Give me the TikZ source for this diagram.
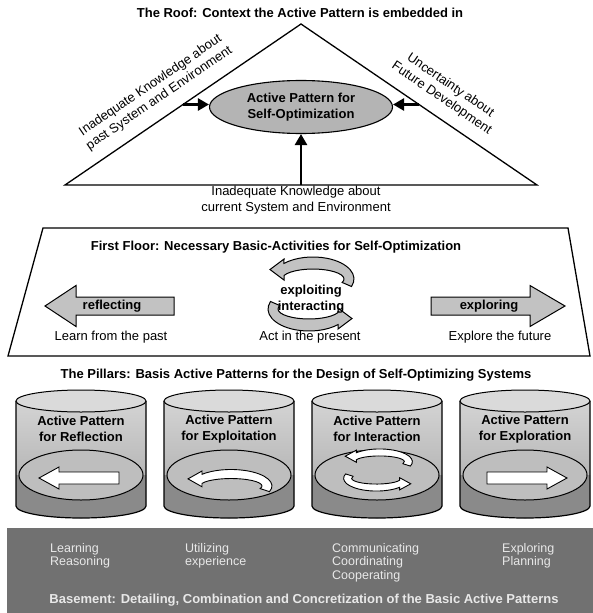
\documentclass[tikz,border=0pt]{standalone}
\usepackage{fontspec}
\setmainfont{Liberation Sans}
\usetikzlibrary{calc,shapes.geometric,arrows.meta}

\definecolor{roofgray}{HTML}{B4B4B4}
\definecolor{arrowgray}{HTML}{C2C2C2}
\definecolor{lidgray}{HTML}{DADADA}
\definecolor{bodytop}{HTML}{D4D4D4}
\definecolor{bodybot}{HTML}{A6A6A6}
\definecolor{bandgray}{HTML}{8A8A8A}
\definecolor{discgray}{HTML}{BEBEBE}
\definecolor{basegray}{HTML}{717171}
\definecolor{basetextc}{HTML}{E8E8E8}

\tikzset{
  every node/.style={font=\fontsize{13}{15.5}\selectfont, inner sep=0pt, align=center},
  heading/.style={font=\fontsize{13}{15.5}\selectfont\bfseries},
  frame/.style={draw=black, line width=1.3pt, line join=miter},
  push/.style={line width=2.6pt, -{Triangle[length=11pt,width=12pt]}},
  blockarrow/.style={draw=black, line width=1pt, fill=arrowgray, line join=miter},
  iconarrow/.style={draw=black, line width=0.9pt, fill=white, line join=miter},
  basetext/.style={text=basetextc, align=left, font=\fontsize{12.5}{13.5}\selectfont},
  % a bent arrow: curved band over the top, head on the left pointing left
  bentarrow/.pic={
    \path[pic actions] (40.5,8.5)
      arc[start angle=-20, end angle=135, x radius=41, y radius=22]
      -- (-27,36) -- (-41,25.5) -- (-27,15) -- (-27,19.5)
      arc[start angle=159.3, end angle=-20, x radius=31, y radius=10]
      -- cycle;
  }
}

\begin{document}
\begin{tikzpicture}[x=1pt,y=1pt]
\useasboundingbox (0,0) rectangle (593,-613);

% ---------------- roof ----------------
\node[heading] (rooftitle) at (300,-13) {The Roof: Context the Active Pattern is embedded in};
\coordinate (apex) at (301,-24);
\coordinate (bl) at (65,-185);
\coordinate (br) at (537,-185);
\draw[frame] (bl) -- (apex) -- (br) -- cycle;

\node[ellipse, draw, line width=1.1pt, fill=roofgray, minimum width=183pt,
      minimum height=53pt, heading] (core) at (301,-107) {Active Pattern for\\Self-Optimization};

\coordinate (pastin) at ($(bl)!0.5!(apex)$);
\coordinate (futin) at ($(br)!0.5!(apex)$);
\coordinate (nowin) at ($(bl)!0.5!(br)$);
\draw[push] (pastin) -- (pastin -| core.west);
\draw[push] (futin) -- (futin -| core.east);
\draw[push] (nowin) -- (core.south);

\node[rotate=34.3] (pastlbl) at (155,-92) {Inadequate Knowledge about\\past System and Environment};
\node[rotate=-34.3] (futlbl) at (446,-92) {Uncertainty about\\Future Development};
\node (nowlbl) at (296,-200) {Inadequate Knowledge about\\current System and Environment};

% ---------------- first floor ----------------
\draw[frame] (43,-228) -- (568,-228) -- (590,-356) -- (8,-356) -- cycle;
\node[heading] (floortitle) at (276,-247) {First Floor: Necessary Basic-Activities for Self-Optimization};

\draw[blockarrow] (45,-306) -- (76,-285.5) -- (76,-297) -- (174,-297) -- (174,-315)
  -- (76,-315) -- (76,-326.5) -- cycle;
\node[heading] (reflect) at (112,-306) {reflecting};
\draw[blockarrow] (565,-306) -- (530,-285.5) -- (530,-297) -- (431,-297) -- (431,-315)
  -- (530,-315) -- (530,-326.5) -- cycle;
\node[heading] (explore) at (489,-306) {exploring};

\pic[blockarrow] at (311,-295) {bentarrow};
\pic[blockarrow, rotate=180] at (311,-293) {bentarrow};
\node[heading] (actwords) at (311,-299) {exploiting\\interacting};

\node (learn) at (111,-337) {Learn from the past};
\node (act) at (310,-337) {Act in the present};
\node (future) at (500,-337) {Explore the future};

% ---------------- pillars ----------------
\node[heading] (pillartitle) at (296,-375) {The Pillars: Basis Active Patterns for the Design of Self-Optimizing Systems};

\foreach \cx/\tag/\lab in {81/refl/Reflection, 229/expl/Exploitation, 377/inter/Interaction, 525/explr/Exploration}{
  \shade[top color=bodytop, bottom color=bodybot]
    ({\cx-65},-401) -- ({\cx-65},-506)
    arc[start angle=180, end angle=360, x radius=65, y radius=12]
    -- ({\cx+65},-401) -- cycle;
  \fill[bandgray] ({\cx-65},-475) -- ({\cx-65},-506)
    arc[start angle=180, end angle=360, x radius=65, y radius=12]
    -- ({\cx+65},-475) -- cycle;
  \draw[line width=1.2pt] ({\cx-65},-401) -- ({\cx-65},-506)
    arc[start angle=180, end angle=360, x radius=65, y radius=12]
    -- ({\cx+65},-401);
  \draw[line width=1pt, fill=discgray] (\cx,-475) ellipse[x radius=62, y radius=25];
  \draw[line width=1pt, fill=lidgray] (\cx,-401) ellipse[x radius=65, y radius=11];
  \node[heading] (pillar-\tag) at (\cx,-429) {Active Pattern\\for \lab};
}

% icons on the pillar floors
\draw[iconarrow] (39,-478) -- (59,-467) -- (59,-472) -- (119,-472) -- (119,-484)
  -- (59,-484) -- (59,-489) -- cycle;
\pic[iconarrow, yscale=0.75] at (229,-498) {bentarrow};
\pic[iconarrow, xscale=0.8, yscale=0.58] at (378,-471) {bentarrow};
\pic[iconarrow, xscale=0.8, yscale=0.58, rotate=180] at (378,-469) {bentarrow};
\draw[iconarrow] (567,-478) -- (547,-467) -- (547,-472) -- (487,-472) -- (487,-484)
  -- (547,-484) -- (547,-489) -- cycle;

% ---------------- basement ----------------
\fill[basegray] (7,-528) rectangle (596,-616);
\node[basetext, anchor=north west] (learnreason) at (50,-543) {Learning\\Reasoning};
\node[basetext, anchor=north west] (utilize) at (185,-543) {Utilizing\\experience};
\node[basetext, anchor=north west] (cooperate) at (332,-543) {Communicating\\Coordinating\\Cooperating};
\node[basetext, anchor=north west] (plan) at (502,-543) {Exploring\\Planning};
\node[heading, text=basetextc] (basetitle) at (304,-600) {Basement: Detailing, Combination and Concretization of the Basic Active Patterns};

\end{tikzpicture}
\end{document}
